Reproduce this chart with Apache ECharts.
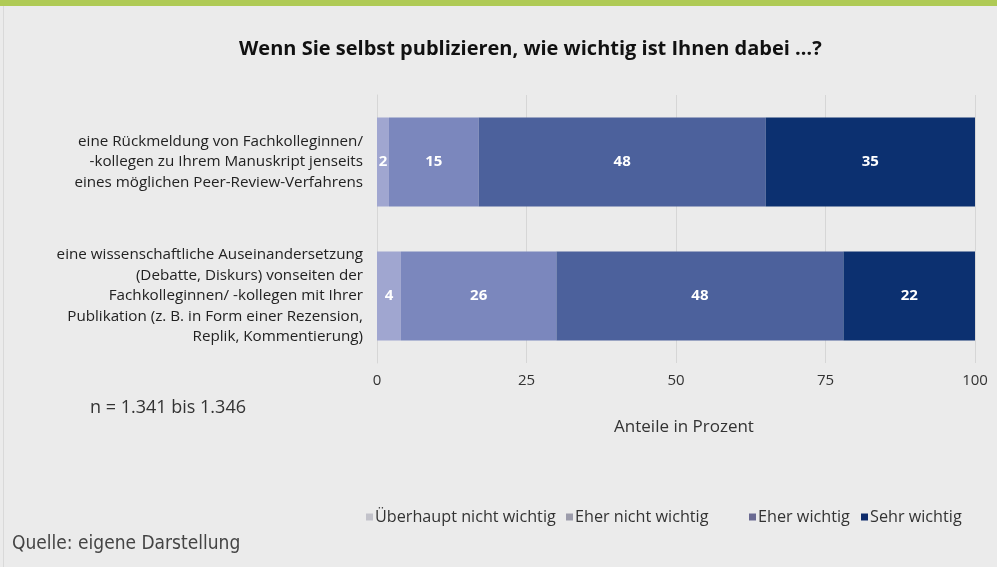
<!DOCTYPE html>
<html><head><meta charset="utf-8">
<script src="https://cdn.jsdelivr.net/npm/echarts@6/dist/echarts.min.js"></script>
<style>html,body{margin:0;padding:0;background:#ebebeb;}#c{width:997px;height:567px;}</style>
</head><body><div id="c"></div>
<script>
const categories = [
  "eine Rückmeldung von Fachkolleginnen/\n-kollegen zu Ihrem Manuskript jenseits\neines möglichen Peer-Review-Verfahrens",
  "eine wissenschaftliche Auseinandersetzung\n(Debatte, Diskurs) vonseiten der\nFachkolleginnen/ -kollegen mit Ihrer\nPublikation (z. B. in Form einer Rezension,\nReplik, Kommentierung)"
];
const seriesNames = ["Überhaupt nicht wichtig", "Eher nicht wichtig", "Eher wichtig", "Sehr wichtig"];
const ueberhauptNicht = [2, 4];
const eherNicht = [15, 26];
const eherWichtig = [48, 48];
const sehrWichtig = [35, 22];
const xTicks = [0, 25, 50, 75, 100];

const barColors = ["#a0a6d0", "#7b87bd", "#4c619c", "#0c3070"];
const legendColors = ["#c2c2ca", "#9c9cab", "#6a6a92", "#0d2a6a"];
const legendLefts = [361, 561, 744, 856];
const values = [ueberhauptNicht, eherNicht, eherWichtig, sehrWichtig];

const chart = echarts.init(document.getElementById('c'));
const font = "'Open Sans', 'Noto Sans', sans-serif";
chart.setOption({
  backgroundColor: '#ebebeb',
  animation: false,
  title: {
    text: "Wenn Sie selbst publizieren, wie wichtig ist Ihnen dabei …?",
    left: 234, top: 34,
    textStyle: { fontFamily: font, fontSize: 20, fontWeight: 'bold', color: '#111' }
  },
  legend: seriesNames.map((n, i) => ({
    left: legendLefts[i], top: 504,
    itemWidth: 7, itemHeight: 7, itemGap: 10,
    icon: 'rect',
    textStyle: { fontFamily: font, fontSize: 16.2, color: '#333', padding: [0,0,0,-3] },
    data: [{ name: n, itemStyle: { color: legendColors[i] } }]
  })),
  grid: { left: 377, right: 22, top: 95, bottom: 204 },
  xAxis: {
    type: 'value', min: 0, max: 100, interval: 25,
    axisLine: { show: false }, axisTick: { show: false },
    splitLine: { show: true, lineStyle: { color: '#d6d6d6', width: 1 } },
    axisLabel: { fontFamily: font, fontSize: 15, color: '#333', margin: 10,
      formatter: v => xTicks.includes(v) ? String(v) : '' },
    name: 'Anteile in Prozent', nameLocation: 'middle', nameGap: 56,
    nameTextStyle: { fontFamily: font, fontSize: 17, color: '#333', padding: [0,0,0,16] }
  },
  yAxis: {
    type: 'category', data: categories, inverse: true,
    axisLine: { show: true, lineStyle: { color: '#d6d6d6' } },
    axisTick: { show: false },
    axisLabel: { fontFamily: font, fontSize: 15.2, color: '#222', lineHeight: 20.5, margin: 14, align: 'right' }
  },
  series: values.map((v, i) => ({
    name: seriesNames[i], type: 'bar', stack: 'total',
    data: v, barCategoryGap: '33.6%',
    itemStyle: { color: barColors[i] },
    label: { show: true, position: 'inside', color: '#fff', fontFamily: font, fontSize: 15, fontWeight: 'bold' }
  })),
  graphic: [
    { type: 'rect', left: 0, top: 0, shape: { width: 997, height: 6 }, style: { fill: '#afca55' } },
    { type: 'rect', left: 3, top: 6, shape: { width: 1, height: 561 }, style: { fill: '#d9d9d9' } },
    { type: 'text', left: 90, top: 399, style: { text: 'n = 1.341 bis 1.346', font: "18px 'Open Sans', sans-serif", fill: '#333' } },
    { type: 'text', left: 12, top: 535, style: { text: 'Quelle: eigene Darstellung', font: "19px 'DejaVu Sans Condensed', 'Open Sans', sans-serif", fill: '#444' } }
  ]
});
</script></body></html>
